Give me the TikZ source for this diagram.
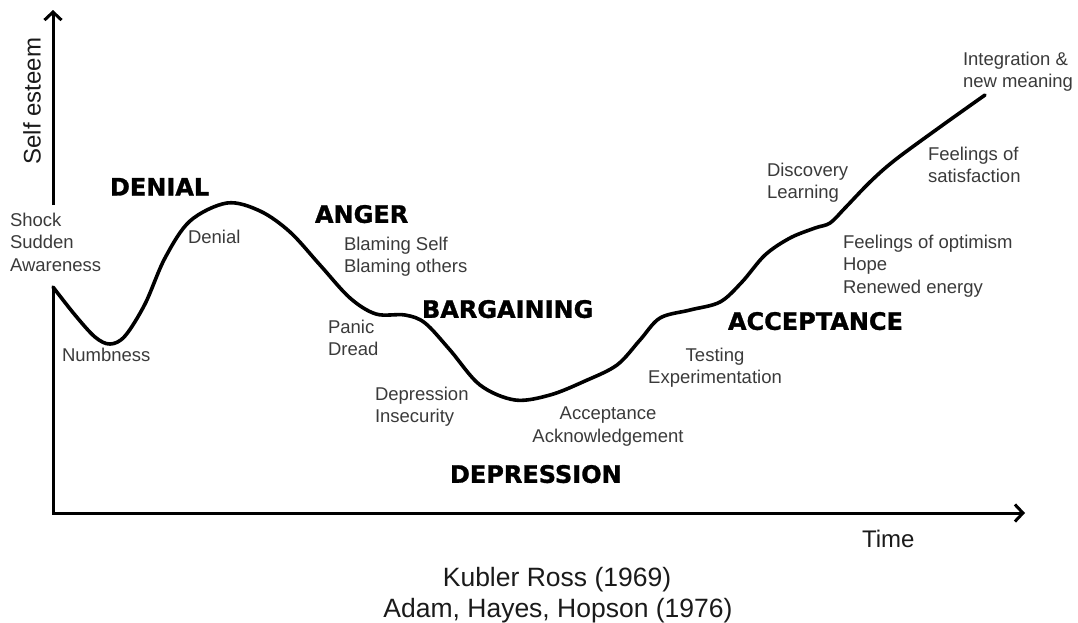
\documentclass[tikz,border=0pt]{standalone}
\usepackage{fontspec}
\setmainfont{Liberation Sans}
\newfontfamily\heavyfont[BoldFont={DejaVu Sans Bold}, BoldFeatures={FakeBold=1.2}]{DejaVu Sans}
\usetikzlibrary{arrows.meta}
\definecolor{labelgray}{HTML}{3A3A3A}
\definecolor{axisink}{HTML}{1A1A1A}
\tikzset{
  small/.style={inner sep=0pt, outer sep=0pt, text=labelgray, align=left,
    font=\fontsize{18.5}{22.5}\selectfont},
  stage/.style={inner sep=0pt, outer sep=0pt, text=black, anchor=north west,
    font=\heavyfont\bfseries\fontsize{24}{28}\selectfont},
  big/.style={inner sep=0pt, outer sep=0pt, text=axisink,
    font=\fontsize{24}{28}\selectfont},
  cite/.style={inner sep=0pt, outer sep=0pt, text=axisink,
    font=\fontsize{26.5}{32}\selectfont},
  axisline/.style={line width=3pt, draw=black, line cap=butt, line join=miter,
    -{Straight Barb[length=8pt,width=17pt,line width=3pt]}},
  curveline/.style={line width=3.6pt, draw=black, line cap=round, line join=round}
}
\begin{document}
\begin{tikzpicture}[x=1pt, y=-1pt]
\useasboundingbox (0,0) rectangle (1078,622);
% axes
\coordinate (ybreak) at (53,205);
\coordinate (ytop) at (53,10);
\coordinate (c0) at (53,287);
\coordinate (O) at (53,513);
\coordinate (xend) at (1025,513);
\draw[axisline] (ybreak) -- (ytop);
\draw[axisline] (c0) -- (O) -- (xend);
% curve
\draw[curveline] plot[smooth, tension=0.55] coordinates {
 (53,287) (75,315) (95,337) (110,344) (125,336) (145,304) (165,258) (190,221)
 (227,203) (260,211) (290,232) (320,265) (350,298) (376,314) (405,315)
 (425,323) (450,350) (480,385) (515,400) (550,395) (585,381) (617,365)
 (640,340) (660,318) (690,310) (720,302) (742,282) (765,255) (790,238)
 (815,228) (830,223) (845,208) (870,182) (895,160) (940,127) (985,95)};
% axis labels
\node[big, rotate=90] (selfesteem) at (32,101) {Self esteem};
\node[big, anchor=north west] (time) at (862,530) {Time};
\node[cite, anchor=north] (kubler) at (557,567) {Kubler Ross (1969)};
\node[cite, anchor=north] (adam) at (558,598) {Adam, Hayes, Hopson (1976)};
% stages
\node[stage] (denialS) at (110,178) {DENIAL};
\node[stage] (angerS) at (315,205) {ANGER};
\node[stage] (bargS) at (422,300) {BARGAINING};
\node[stage] (accS) at (728,312) {ACCEPTANCE};
\node[stage] (depS) at (450,465) {DEPRESSION};
% small labels
\node[small, anchor=north west] (shock) at (10,213) {Shock\\Sudden\\Awareness};
\node[small, anchor=north west] (numb) at (62,348) {Numbness};
\node[small, anchor=north west] (denial) at (188,230) {Denial};
\node[small, anchor=north west] (blame) at (344,237) {Blaming Self\\Blaming others};
\node[small, anchor=north west] (panic) at (328,320) {Panic\\Dread};
\node[small, anchor=north west] (depr) at (375,387) {Depression\\Insecurity};
\node[small, anchor=north, align=center] (ackn) at (608,407) {Acceptance\\Acknowledgement};
\node[small, anchor=north, align=center] (test) at (715,348) {Testing\\Experimentation};
\node[small, anchor=north west] (disc) at (767,163) {Discovery\\Learning};
\node[small, anchor=north west] (optim) at (843,235) {Feelings of optimism\\Hope\\Renewed energy};
\node[small, anchor=north west] (satis) at (928,147) {Feelings of\\satisfaction};
\node[small, anchor=north west] (integ) at (963,52) {Integration \&\\new meaning};
\end{tikzpicture}
\end{document}
